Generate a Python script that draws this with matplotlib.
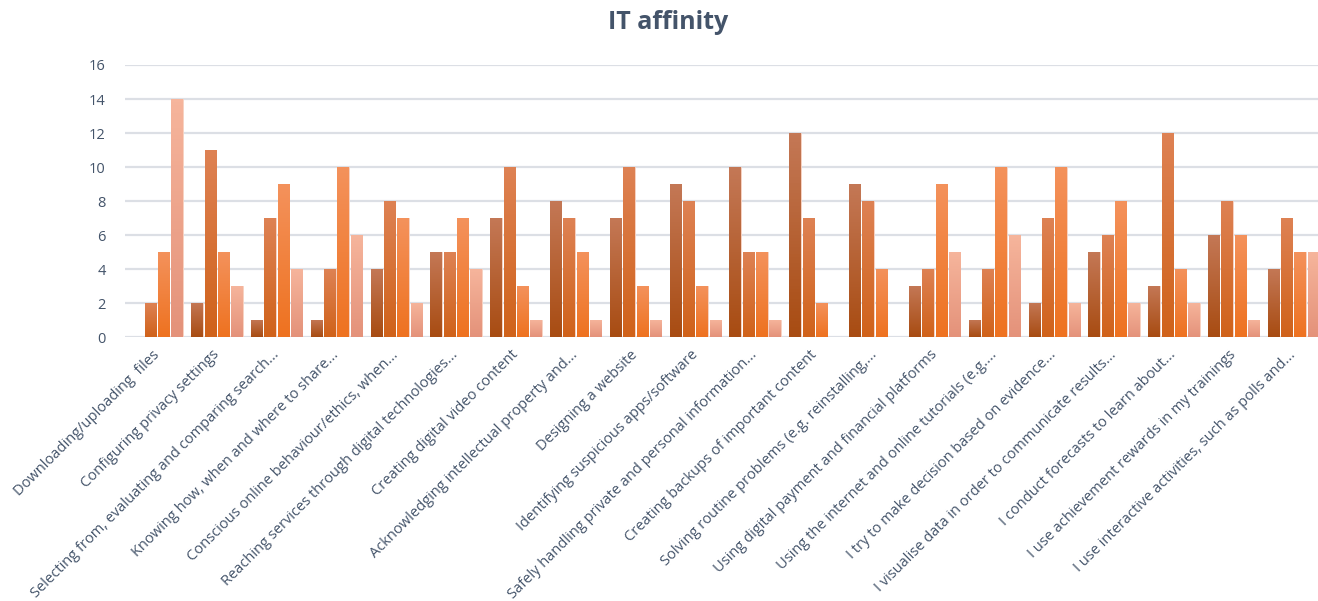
"""Grouped bar chart: IT affinity, four answer levels per item, gradient-filled bars."""
import matplotlib.pyplot as plt
import numpy as np
from matplotlib.colors import LinearSegmentedColormap

categories = [
    "Downloading/uploading  files",
    "Configuring privacy settings",
    "Selecting from, evaluating and comparing search...",
    "Knowing how, when and where to share...",
    "Conscious online behaviour/ethics, when...",
    "Reaching services through digital technologies...",
    "Creating digital video content",
    "Acknowledging intellectual property and...",
    "Designing a website",
    "Identifying suspicious apps/software",
    "Safely handling private and personal information...",
    "Creating backups of important content",
    "Solving routine problems (e.g. reinstalling,...",
    "Using digital payment and financial platforms",
    "Using the internet and online tutorials (e.g....",
    "I try to make decision based on evidence...",
    "I visualise data in order to communicate results...",
    "I conduct forecasts to learn about...",
    "I use achievement rewards in my trainings",
    "I use interactive activities, such as polls and...",
]
level_1 = [0, 2, 1, 1, 4, 5, 7, 8, 7, 9, 10, 12, 9, 3, 1, 2, 5, 3, 6, 4]
level_2 = [2, 11, 7, 4, 8, 5, 10, 7, 10, 8, 5, 7, 8, 4, 4, 7, 6, 12, 8, 7]
level_3 = [5, 5, 9, 10, 7, 7, 3, 5, 3, 3, 5, 2, 4, 9, 10, 10, 8, 4, 6, 5]
level_4 = [14, 3, 4, 6, 2, 4, 1, 1, 1, 1, 1, 0, 0, 5, 6, 2, 2, 2, 1, 5]
y_ticks = [0, 2, 4, 6, 8, 10, 12, 14, 16]

series = [level_1, level_2, level_3, level_4]
# (top, bottom) gradient colours per series
shades = [("#C47856", "#A84C12"), ("#DE8254", "#D0621A"),
          ("#F4925C", "#EE7220"), ("#F6B59C", "#E4927A")]
INK = "#44546A"
GRID = "#DCDFE5"

plt.rcParams["font.family"] = ["Open Sans", "DejaVu Sans"]

fig = plt.figure(figsize=(13.18, 6.01), dpi=100)
ax = fig.add_axes([125 / 1318, 1 - 337.5 / 601, 1 - 125 / 1318, 272.5 / 601])

x = np.arange(len(categories))
pitch = 0.223
for i, (vals, (top, bottom)) in enumerate(zip(series, shades)):
    cmap = LinearSegmentedColormap.from_list(f"s{i}", [bottom, top])
    offs = x + (i - 1.5) * pitch
    bars = ax.bar(offs, vals, width=0.19, color=top,
                  edgecolor="#F7D2C2", linewidth=0.7, zorder=3)
    for bar in bars:
        h = bar.get_height()
        if h <= 0:
            bar.set_visible(False)
            continue
        bx, bw = bar.get_x(), bar.get_width()
        grad = np.linspace(0, 1, 64).reshape(-1, 1)
        im = ax.imshow(grad, cmap=cmap, origin="lower", aspect="auto",
                       extent=[bx, bx + bw, 0, h], zorder=3.5)
        im.set_clip_path(bar)

ax.set_xlim(-0.536, 19.41)
ax.set_ylim(0, 16)
ax.set_yticks(y_ticks)
ax.set_xticks(x)
ax.set_xticklabels(categories, rotation=45, ha="right", va="center",
                   rotation_mode="anchor", fontsize=10.5, color=INK)
ax.tick_params(axis="x", length=0, pad=11)
ax.tick_params(axis="y", length=0, pad=14, labelsize=10.5, labelcolor=INK)

ax.grid(axis="y", color=GRID, linewidth=1.6, zorder=0)
ax.set_axisbelow(True)
for side in ax.spines.values():
    side.set_visible(False)

fig.text(0.507, 0.962, "IT affinity", ha="center", va="center",
         fontsize=18, fontweight="bold", color=INK)

fig.savefig("out.png", dpi=100, facecolor="white")
